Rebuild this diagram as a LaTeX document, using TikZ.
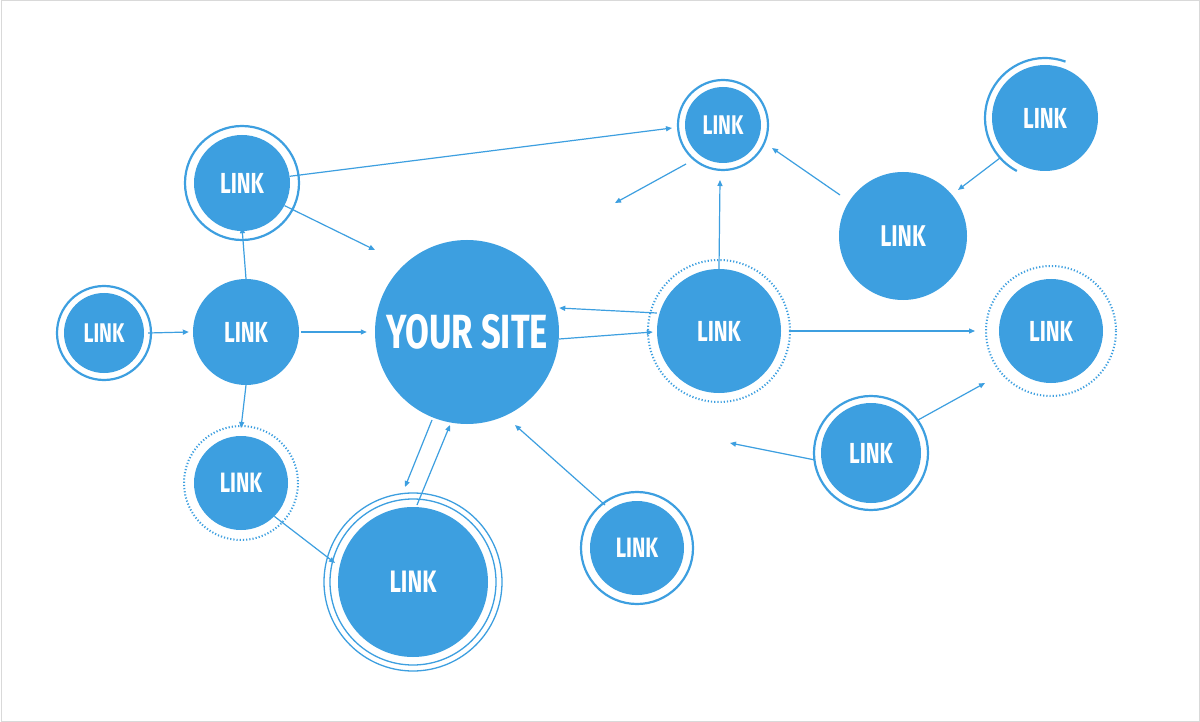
\documentclass[tikz,border=0pt]{standalone}
\usepackage{fontspec}
\setmainfont{Fira Sans}
\usetikzlibrary{arrows.meta}
\definecolor{cb}{HTML}{3D9FE0}
\newcommand{\lk}[2]{\scalebox{0.72}[1]{\fontsize{#1}{#1}\selectfont\bfseries #2}}
\begin{document}
\begin{tikzpicture}[x=1pt,y=-1pt,
  dot/.style={circle,fill=cb,text=white,inner sep=0pt,minimum size=#1},
  ring/.style={draw=cb,line width=2.2pt},
  dring/.style={draw=cb,line width=2pt,dash pattern=on 1.2pt off 2pt},
  arr/.style={draw=cb,line width=1.2pt,-{Triangle[length=6pt,width=5pt]}}]
\path[use as bounding box,fill=white] (0,0) rectangle (1200,722);
\draw[gray!30,line width=1pt] (1,1) rectangle (1199,721);
% nodes
\node[dot=80pt] (a) at (104,333) {\lk{27}{LINK}};
\draw[ring] (a.center) circle[radius=47];
\node[dot=106pt] (b) at (246,332) {\lk{29}{LINK}};
\node[dot=96pt] (c) at (242,183) {\lk{29}{LINK}};
\draw[ring] (c.center) circle[radius=57];
\node[dot=94pt] (d) at (241,483) {\lk{28}{LINK}};
\draw[dring] (d.center) circle[radius=57];
\node[dot=184pt] (s) at (467,332) {\lk{48}{YOUR SITE}};
\node[dot=150pt] (e) at (413,582) {\lk{31}{LINK}};
\draw[cb,line width=1.3pt] (e.center) circle[radius=83] (e.center) circle[radius=89];
\node[dot=94pt] (f) at (637,548) {\lk{28}{LINK}};
\draw[ring] (f.center) circle[radius=56];
\node[dot=124pt] (g) at (719,331) {\lk{29}{LINK}};
\draw[dring] (g.center) circle[radius=71];
\node[dot=76pt] (h) at (723,125) {\lk{27}{LINK}};
\draw[ring] (h.center) circle[radius=45];
\node[dot=128pt] (i) at (903,236) {\lk{30}{LINK}};
\node[dot=106pt] (j) at (1045,118) {\lk{29}{LINK}};
\draw[ring] (j.center) ++(118:60) arc[start angle=118,end angle=290,radius=60];
\node[dot=104pt] (k) at (1051,331) {\lk{29}{LINK}};
\draw[dring] (k.center) circle[radius=65];
\node[dot=100pt] (l) at (871,453) {\lk{29}{LINK}};
\draw[ring] (l.center) circle[radius=57];
\coordinate (p1) at (615,203);
\coordinate (p2) at (730,443);
% connectors
\draw[arr] (a.east) ++(4,0) -- ([xshift=-4pt]b.west);
\draw[arr] (b.north) -- ([yshift=4pt]c.south);
\draw[arr] (b.south) -- ([yshift=-8pt]d.south |- 0,420);
\draw[arr] ([xshift=2pt]b.east) -- ([xshift=-8pt]s.west);
\draw[arr] (c.-28) -- (375,250);
\draw[arr] (c.8) -- (672,128);
\draw[arr] ([yshift=-7pt]s.east) -- ([xshift=-4pt,yshift=-1pt]g.west);
\draw[arr] ([yshift=18pt]g.west) -- ([yshift=24pt]s.east);
\draw[arr] (d.-45) -- (335,563);
\draw[arr] (432,420) -- (405,487);
\draw[arr] (417,505) -- (450,425);
\draw[arr] (605,505) -- (515,425);
\draw[arr] (g.north) -- (720,180);
\draw[arr] (686,164) -- (p1);
\draw[arr] (840,195) -- (772,148);
\draw[arr] (1000,158) -- (958,190);
\draw[arr] (790,331) -- (975,331);
\draw[arr] (918,420) -- (985,383);
\draw[arr] (815,460) -- (p2);
\end{tikzpicture}
\end{document}
